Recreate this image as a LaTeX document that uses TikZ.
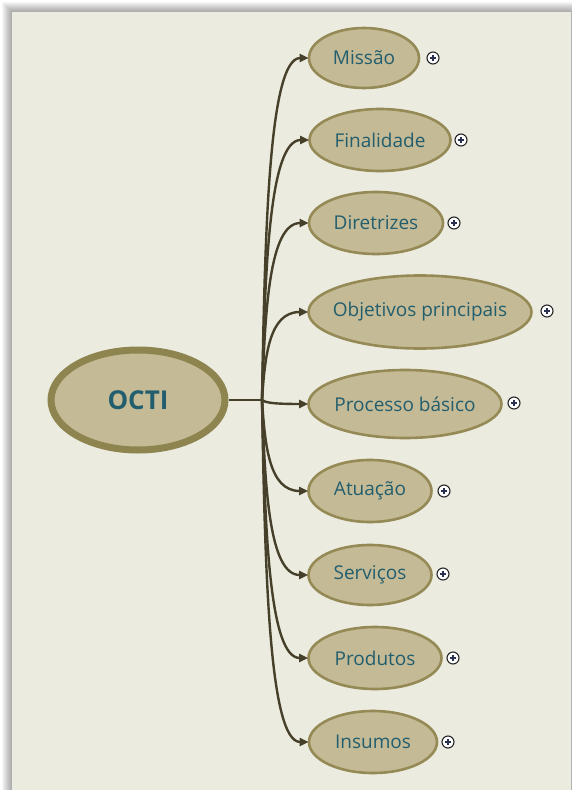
\documentclass[tikz,border=0pt]{standalone}
\usepackage{fontspec}
\setmainfont{Open Sans}
\usetikzlibrary{shapes.geometric,arrows.meta,calc}
\definecolor{panelbg}{HTML}{EBEBE0}
\definecolor{nodefill}{HTML}{C4BA95}
\definecolor{nodeedge}{HTML}{958A55}
\definecolor{rootedge}{HTML}{8E844F}
\definecolor{textcol}{HTML}{225E6E}
\definecolor{linkcol}{HTML}{463F2A}
\definecolor{pluscol}{HTML}{2A3050}
% zero-width label so the ellipse size is set only by its minimum width/height
\newcommand{\tlabel}[1]{\makebox[0pt][c]{#1}}
\tikzset{
  topic/.style={ellipse, draw=nodeedge, line width=2.6pt, fill=nodefill,
    text=textcol, inner sep=0pt, font=\fontsize{19}{22}\selectfont},
  root/.style={ellipse, draw=rootedge, line width=7pt, fill=nodefill,
    text=textcol, inner sep=0pt, minimum width=174pt, minimum height=100pt,
    font=\fontsize{26}{30}\selectfont\bfseries},
  branch/.style={draw=linkcol, line width=2.4pt,
    -{Triangle[length=9pt,width=8pt]}, shorten >=-1pt},
  trunk/.style={draw=linkcol, line width=2.4pt},
  expander/.style={circle, draw=black!85, line width=1.1pt, fill=white,
    minimum size=12pt, inner sep=0pt,
    path picture={\draw[pluscol, line width=1.4pt]
      ([xshift=-3pt]path picture bounding box.center) -- ([xshift=3pt]path picture bounding box.center)
      ([yshift=-3pt]path picture bounding box.center) -- ([yshift=3pt]path picture bounding box.center);}}
}
\begin{document}
\begin{tikzpicture}[x=1pt,y=-1pt]
\useasboundingbox (0,0) rectangle (571,790);
% page and drop shadow
\fill[white] (0,0) rectangle (571,790);
\foreach \i in {1,...,10}
  \fill[black, opacity=0.035] (12-\i,12-\i) rectangle (590,810);
\fill[panelbg] (12,12) rectangle (571,790);

% central topic
\node[root] (octi) at (138,400) {OCTI};
\coordinate (hub) at (262,400);

% subtopics
\node[topic, minimum width=110pt, minimum height=60pt] (missao)   at (364,58)  {\tlabel{Missão}};
\node[topic, minimum width=141pt, minimum height=62pt] (final)    at (380,140) {\tlabel{Finalidade}};
\node[topic, minimum width=134pt, minimum height=62pt] (diretr)   at (376,223) {\tlabel{Diretrizes}};
\node[topic, minimum width=223pt, minimum height=73pt] (objet)    at (420,312) {\tlabel{Objetivos principais}};
\node[topic, minimum width=193pt, minimum height=68pt] (processo) at (405,404) {\tlabel{Processo básico}};
\node[topic, minimum width=123pt, minimum height=62pt] (atuacao)  at (370,491) {\tlabel{Atuação}};
\node[topic, minimum width=123pt, minimum height=60pt] (servicos) at (370,575) {\tlabel{Serviços}};
\node[topic, minimum width=133pt, minimum height=62pt] (produtos) at (375,658) {\tlabel{Produtos}};
\node[topic, minimum width=128pt, minimum height=62pt] (insumos)  at (373,742) {\tlabel{Insumos}};

% expand markers
\node[expander] (pm1) at (433,58)  {};
\node[expander] (pm2) at (461,140) {};
\node[expander] (pm3) at (454,223) {};
\node[expander] (pm4) at (547,311) {};
\node[expander] (pm5) at (514,403) {};
\node[expander] (pm6) at (444,491) {};
\node[expander] (pm7) at (443,574) {};
\node[expander] (pm8) at (453,658) {};
\node[expander] (pm9) at (448,742) {};

% connectors
\draw[trunk] (octi.east) -- (hub);
\foreach \t in {missao,final,diretr,objet,processo,atuacao,servicos,produtos,insumos}
  \draw[branch] (hub) .. controls ($(hub)!0.5!(hub |- \t.west)+(3,0)$)
                      and ([xshift=7pt]hub |- \t.west) .. (\t.west);
\end{tikzpicture}
\end{document}
